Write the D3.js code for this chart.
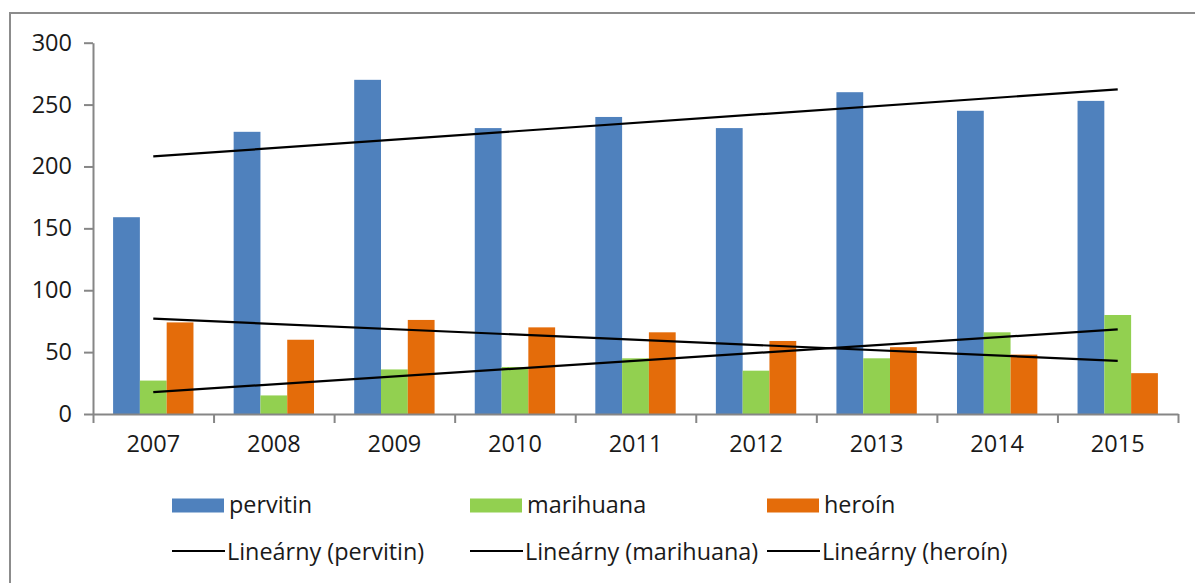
<!DOCTYPE html>
<html>
<head>
<meta charset="utf-8">
<script src="https://cdn.jsdelivr.net/npm/d3@7/dist/d3.min.js"></script>
<style>
  html, body { margin: 0; padding: 0; background: #fff; }
  svg { display: block; }
  text { font-family: "Open Sans", "Liberation Sans", sans-serif; fill: #1a1a1a; }
</style>
</head>
<body>
<svg id="chart" width="1195" height="583"></svg>
<script>
const years = ["2007","2008","2009","2010","2011","2012","2013","2014","2015"];
const pervitin  = [159, 228, 270, 231, 240, 231, 260, 245, 253];
const marihuana = [27, 15, 36, 38, 45, 35, 45, 66, 80];
const heroin    = [74, 60, 76, 70, 66, 59, 54, 48, 33];
const seriesNames = ["pervitin", "marihuana", "heroín"];
const trendNames = ["Lineárny (pervitin)", "Lineárny (marihuana)", "Lineárny (heroín)"];
const yTicks = [0, 50, 100, 150, 200, 250, 300];

const colors = ["#4F81BD", "#92D050", "#E46C0A"];
const seriesData = [pervitin, marihuana, heroin];

const svg = d3.select("#chart");

// outer frame (left and top edges visible)
svg.append("path")
  .attr("d", "M10,590 L10,13 L1200,13")
  .attr("fill", "none").attr("stroke", "#8c8c8c").attr("stroke-width", 2);

const x0 = 93, x1 = 1178, yTop = 42.7, yBot = 414;
const x = d3.scaleBand().domain(years).range([x0, x1]).padding(0);
const bw = x.bandwidth();
const xs = d3.scaleBand().domain(seriesNames).range([bw / 6, bw * 5 / 6]).padding(0);
const y = d3.scaleLinear().domain([0, 300]).range([yBot, yTop]);

// bars
seriesData.forEach((vals, si) => {
  svg.append("g").selectAll("rect").data(vals).join("rect")
    .attr("x", (d, i) => x(years[i]) + xs(seriesNames[si]))
    .attr("y", d => y(d))
    .attr("width", xs.bandwidth())
    .attr("height", d => y(0) - y(d))
    .attr("fill", colors[si]);
});

// y axis
const yAxis = svg.append("g").attr("transform", `translate(${x0},0)`)
  .call(d3.axisLeft(y).tickValues(yTicks).tickSize(9).tickSizeOuter(0).tickPadding(12));
yAxis.select(".domain").attr("stroke", "#868686").attr("stroke-width", 2);
yAxis.selectAll(".tick line").attr("stroke", "#868686").attr("stroke-width", 2);
yAxis.selectAll(".tick text").style("font-size", "23.5px").attr("fill", "#1a1a1a");

// x axis: boundary ticks
const xb = d3.scaleLinear().domain([0, years.length]).range([x0, x1]);
const xAxisT = svg.append("g").attr("transform", `translate(0,${yBot})`)
  .call(d3.axisBottom(xb).tickValues(d3.range(years.length + 1)).tickFormat("").tickSize(9).tickSizeOuter(0));
xAxisT.select(".domain").attr("stroke", "#868686").attr("stroke-width", 2);
xAxisT.selectAll(".tick line").attr("stroke", "#868686").attr("stroke-width", 2);

// x axis labels
const xAxisL = svg.append("g").attr("transform", `translate(0,${yBot})`)
  .call(d3.axisBottom(x).tickSize(0).tickPadding(21));
xAxisL.select(".domain").remove();
xAxisL.selectAll(".tick text").style("font-size", "23.5px").attr("fill", "#1a1a1a");

// linear trendlines (least squares fit of each series)
function fit(vals) {
  const n = vals.length;
  const xsI = d3.range(1, n + 1);
  const mx = d3.mean(xsI), my = d3.mean(vals);
  let sxy = 0, sxx = 0;
  xsI.forEach((xi, i) => { sxy += (xi - mx) * (vals[i] - my); sxx += (xi - mx) * (xi - mx); });
  const b = sxy / sxx, a = my - b * mx;
  return [a + b * 1, a + b * n];
}
seriesData.forEach(vals => {
  const [v0, v1] = fit(vals);
  svg.append("line")
    .attr("x1", x(years[0]) + bw / 2).attr("y1", y(v0))
    .attr("x2", x(years[years.length - 1]) + bw / 2).attr("y2", y(v1))
    .attr("stroke", "#000").attr("stroke-width", 2.2);
});

// legend
const legX = [172, 470, 767];
const row1 = 505.5, row2 = 551;
seriesNames.forEach((name, i) => {
  svg.append("rect").attr("x", legX[i]).attr("y", row1 - 7).attr("width", 52).attr("height", 14).attr("fill", colors[i]);
  svg.append("text").attr("x", legX[i] + 57).attr("y", row1 + 7.5).style("font-size", "23.4px").text(name);
  svg.append("line").attr("x1", legX[i]).attr("x2", legX[i] + 53).attr("y1", row2).attr("y2", row2)
    .attr("stroke", "#000").attr("stroke-width", 2.2);
  svg.append("text").attr("x", legX[i] + 55).attr("y", row2 + 8.5).style("font-size", "23.4px").text(trendNames[i]);
});
</script>
</body>
</html>
